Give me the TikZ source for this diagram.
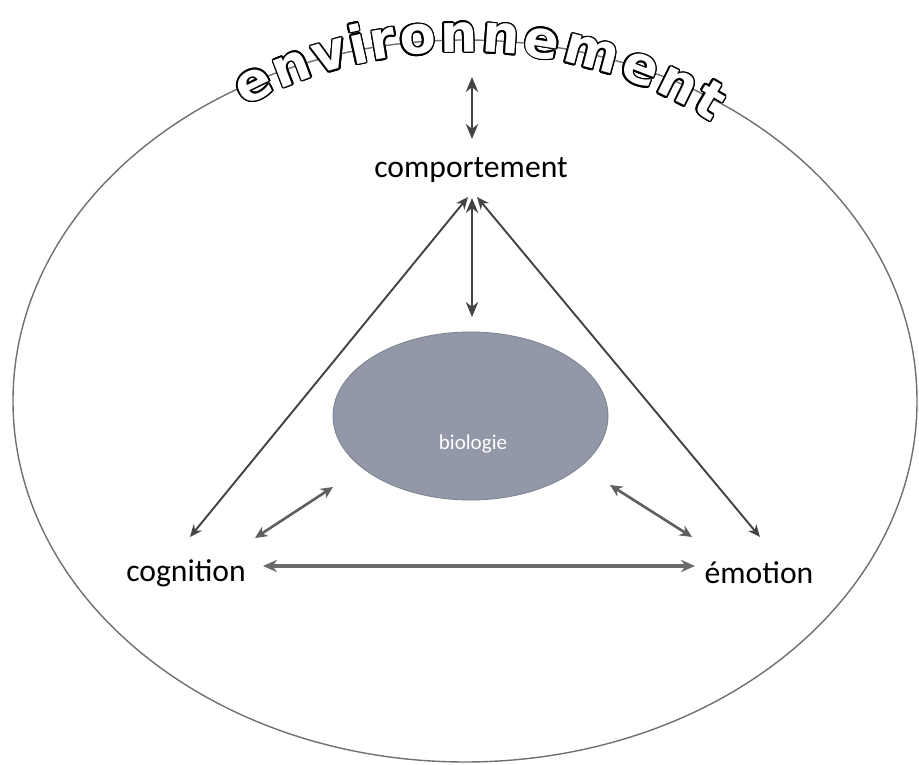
\documentclass[tikz,border=0pt]{standalone}
\usepackage{fontspec}
\setmainfont{Carlito}
\newfontfamily\titlefam{DejaVu Sans}
\usepackage{contour}
\contourlength{0.9pt}
\usetikzlibrary{decorations.text,arrows.meta,shapes.geometric}
\newcommand\mycont[1]{\contour{black}{#1}}
\definecolor{arrowgray}{HTML}{444444}
\definecolor{hgray}{HTML}{6A6A6A}
\definecolor{ellgray}{HTML}{707070}
\definecolor{biofill}{HTML}{9298A8}
\definecolor{bioedge}{HTML}{7E8490}
\tikzset{
  label/.style={font=\fontsize{18}{20}\selectfont, text=black, inner sep=0pt},
  biolabel/.style={font=\fontsize{12}{14}\selectfont, text=white, inner sep=0pt},
  bioshape/.style={ellipse, fill=biofill, draw=bioedge, line width=0.5pt, minimum width=5.5cm, minimum height=3.36cm, inner sep=0pt},
  varrow/.style={draw=arrowgray, line width=1.6pt, {Stealth[length=8.5pt,width=7pt]}-{Stealth[length=8.5pt,width=7pt]}},
  darrow/.style={draw=arrowgray, line width=1.1pt, {Stealth[length=7pt,width=6pt]}-{Stealth[length=7pt,width=6pt]}},
  sarrow/.style={draw=arrowgray!85, line width=1.5pt, {Stealth[length=7pt,width=6.5pt]}-{Stealth[length=7pt,width=6.5pt]}},
  harrow/.style={draw=hgray, line width=2pt, {Stealth[length=8pt,width=7pt]}-{Stealth[length=8pt,width=7pt]}},
}
\begin{document}
\begin{tikzpicture}[x=0.02cm, y=0.02cm]
\useasboundingbox (0,0) rectangle (919,764);
% outer ellipse
\draw[draw=ellgray, line width=0.8pt] (465,363) ellipse [x radius=452, y radius=361];
% title along the arc
\path[decorate, decoration={text effects along path, text={environnement},
   text effects/.cd, text along path, fit text to path, character command=\mycont,
   characters={text=white, font=\titlefam\bfseries\fontsize{30}{33}\selectfont}}]
  (465,363) ++(122.5:410 and 349) arc[start angle=122.5, end angle=53, x radius=410, y radius=349];
% nodes
\node[bioshape] (bio) at (470.5,348) {};
\node[biolabel] (biotxt) at (473,320) {biologie};
\node[label] (comp) at (471,594) {comportement};
\node[label] (cog) at (186,191) {cognition};
\node[label] (emo) at (759,191) {émotion};
% connector end points
\coordinate (envtip) at (472,687);
\coordinate (comptop) at (472,625);
\coordinate (compbot) at (472,566);
\coordinate (biotop) at (472,447);
\coordinate (apexL) at (468,567);
\coordinate (apexR) at (477,567);
\coordinate (cogtip) at (190,227);
\coordinate (emotip) at (760,227);
\coordinate (cogB) at (255,226);
\coordinate (bioL) at (333,277);
\coordinate (bioR) at (610,279);
\coordinate (emoB) at (692,227);
\coordinate (hL) at (263,198);
\coordinate (hR) at (695,198);
% connectors
\draw[varrow] (envtip) -- (comptop);
\draw[varrow] (compbot) -- (biotop);
\draw[darrow] (apexL) -- (cogtip);
\draw[darrow] (apexR) -- (emotip);
\draw[sarrow] (cogB) -- (bioL);
\draw[sarrow] (bioR) -- (emoB);
\draw[harrow] (hL) -- (hR);
\end{tikzpicture}
\end{document}
